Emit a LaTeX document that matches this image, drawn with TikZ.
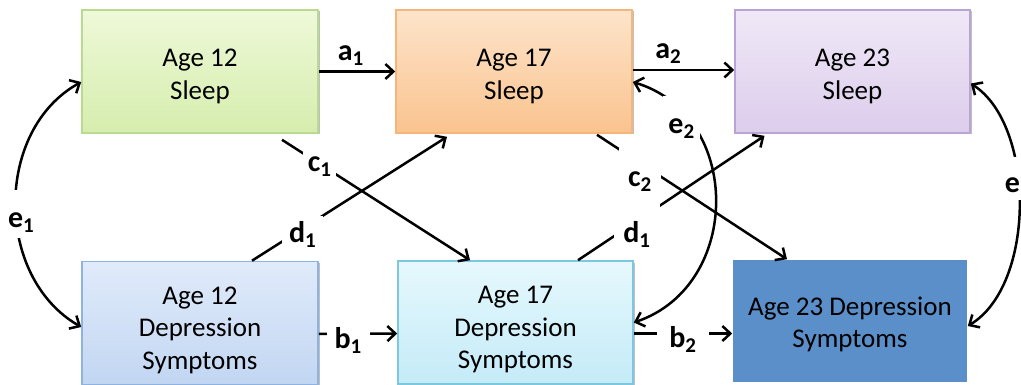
\documentclass[tikz,border=0pt]{standalone}
\usepackage{fontspec}
\setmainfont{Carlito}
\usetikzlibrary{arrows.meta,shadows}

% box colours (top / bottom of the gradient, border)
\definecolor{grTop}{HTML}{EEF9D8}\definecolor{grBot}{HTML}{D6EDAE}\definecolor{grLine}{HTML}{BAD991}
\definecolor{orTop}{HTML}{FDE4CA}\definecolor{orBot}{HTML}{FAC38F}\definecolor{orLine}{HTML}{F5B67B}
\definecolor{puTop}{HTML}{F0E8F7}\definecolor{puBot}{HTML}{DCCDEC}\definecolor{puLine}{HTML}{B9A5D5}
\definecolor{blTop}{HTML}{E0EBFA}\definecolor{blBot}{HTML}{C2D6F2}\definecolor{blLine}{HTML}{8FB3E0}
\definecolor{cyTop}{HTML}{E6F8FD}\definecolor{cyBot}{HTML}{C4EBF7}\definecolor{cyLine}{HTML}{7CC8E0}
\definecolor{dkFill}{HTML}{5B8FC9}

\newcommand\boxfont{\fontsize{27}{32.5}\selectfont}
\newcommand\tagfont{\fontsize{30}{34}\selectfont\bfseries}
\newcommand\pathtag[2]{#1\textsubscript{#2}}
\newcommand\firstline[1]{\rule{0pt}{#1}}

\begin{document}
\begin{tikzpicture}[x=1pt,y=-1pt,
  box/.style={rectangle, minimum width=236pt, minimum height=123pt, inner sep=0pt,
    align=center, font=\boxfont, line width=1.6pt},
  shade/.style={drop shadow={shadow xshift=1.5pt, shadow yshift=-1.5pt, opacity=0.25, fill=black}},
  link/.style={line width=2.5pt, -{Straight Barb[length=8pt,width=15pt]}},
  twoway/.style={line width=2.5pt,
    {Straight Barb[length=8pt,width=15pt]}-{Straight Barb[length=8pt,width=15pt]}},
  tag/.style={font=\tagfont, inner sep=2pt},
  gap/.style={tag, fill=white}
]
\useasboundingbox (0,0) rectangle (1021,385);

% sleep measures
\node[box, shade, top color=grTop, bottom color=grBot, draw=grLine] (s12) at (200,71.5)
  {\firstline{27.5pt}Age 12\\Sleep};
\node[box, shade, top color=orTop, bottom color=orBot, draw=orLine] (s17) at (514,71.5)
  {\firstline{27.5pt}Age 17\\Sleep};
\node[box, shade, minimum width=235pt, top color=puTop, bottom color=puBot, draw=puLine] (s23) at (852.5,71.5)
  {\firstline{27.5pt}Age 23\\Sleep};

% depression measures
\node[box, shade, top color=blTop, bottom color=blBot, draw=blLine] (d12) at (200,323)
  {\firstline{31.5pt}Age 12\\Depression\\Symptoms};
\node[box, shade, minimum width=235pt, top color=cyTop, bottom color=cyBot, draw=cyLine] (d17) at (515.5,322.5)
  {\firstline{31.5pt}Age 17\\Depression\\Symptoms};
\node[box, minimum width=234pt, minimum height=122pt, fill=dkFill, draw=none] (d23) at (850,321)
  {\firstline{25.5pt}Age 23 Depression\\Symptoms};

% stability paths
\draw[link] (s12.east) -- (s17.west)
  node[tag, pos=0.42, above=3pt] {\pathtag{a}{1}};
\draw[link] ([yshift=1.5pt]s17.east) -- ([yshift=1.5pt]s23.west)
  node[tag, pos=0.35, above=3pt] {\pathtag{a}{2}};
\draw[link] ([yshift=-11pt]d12.east) -- ([yshift=-11pt]d17.west)
  node[gap, pos=0.375, yshift=-7pt, inner xsep=8pt] {\pathtag{b}{1}};
\draw[link] ([yshift=-11pt]d17.east) -- ([yshift=-12.5pt]d23.west)
  node[gap, pos=0.5, yshift=-6pt, inner xsep=12pt] {\pathtag{b}{2}};

% cross-lagged paths
\draw[link] ([shift={(82,6)}]s12.south) -- ([xshift=-45.5pt]d17.north)
  node[gap, pos=0.2, yshift=-3pt, inner sep=5pt] {\pathtag{c}{1}};
\draw[link] ([xshift=52pt]d12.north) -- ([shift={(-67,3)}]s17.south)
  node[gap, pos=0.26, yshift=-6pt, inner xsep=7pt, inner ysep=5pt] {\pathtag{d}{1}};
\draw[link] ([shift={(83,1)}]s17.south) -- ([xshift=-63pt]d23.north)
  node[gap, pos=0.226, yshift=-8.5pt, inner xsep=9pt, inner ysep=2pt,
       text height=36pt, text depth=6pt] {\pathtag{c}{2}};
\draw[link] ([xshift=62.5pt]d17.north) -- ([shift={(-88,2)}]s23.south)
  node[gap, pos=0.316, yshift=-6pt, inner xsep=9pt, inner ysep=2pt,
       text height=38pt, text depth=6pt] {\pathtag{d}{1}};

% residual covariances
\draw[twoway] ([yshift=-10.5pt]s12.west) .. controls +(-87,48) and +(-87,-50) .. ([yshift=-4pt]d12.west)
  node[gap, pos=0.535, xshift=5pt, inner xsep=2pt, inner ysep=2pt,
       text height=35pt, text depth=9pt] {\pathtag{e}{1}};
\draw[twoway] ([yshift=-10.5pt]s17.east) .. controls +(110,33) and +(109,-37) .. (d17.east)
  node[gap, pos=0.2, xshift=-4pt, yshift=-2.5pt, inner xsep=5pt, inner ysep=2pt,
       text height=35pt, text depth=6pt] {\pathtag{e}{2}};
\draw[twoway] ([yshift=-12pt]s23.east) .. controls +(65,42) and +(68,-41) .. ([yshift=-5pt]d23.east)
  node[gap, pos=0.42, xshift=0pt, yshift=2.7pt, inner xsep=2pt, inner ysep=2pt,
       text height=34pt, text depth=5pt] {\pathtag{e}{3}};

\end{tikzpicture}
\end{document}
